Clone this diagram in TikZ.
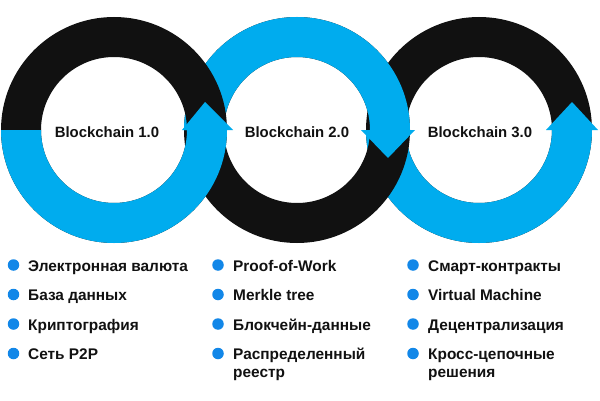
\documentclass[tikz,border=0pt]{standalone}
\usepackage{fontspec}
\setmainfont{Liberation Sans}
\definecolor{ringblue}{RGB}{0,172,238}
\definecolor{dotblue}{RGB}{18,135,232}
\definecolor{ink}{RGB}{17,17,17}
\begin{document}
\begin{tikzpicture}[x=1pt,y=1pt,
  title/.style={font=\bfseries\fontsize{14.9}{17}\selectfont, text=ink, inner sep=0pt, anchor=base},
  item/.style={font=\bfseries\fontsize{15.4}{17.5}\selectfont, text=ink, inner sep=0pt, anchor=base west, align=left},
  bulletdot/.style={circle, fill=dotblue, minimum size=11.5pt, inner sep=0pt},
  ringfull/.style={even odd rule},
]
\useasboundingbox (0,0) rectangle (600,400);
\fill[white] (0,0) rectangle (600,400);

% ring 3
\begin{scope}[shift={(479,270)}]
  \fill[ink,ringfull] (0,0) circle[radius=113] (0,0) circle[radius=73];
  \fill[ringblue] (113,0) arc[start angle=0,end angle=-180,radius=113] -- (-73,0) arc[start angle=180,end angle=360,radius=73] -- cycle;
  \fill[ringblue] (67,0) -- (119,0) -- (93,28) -- cycle;
\end{scope}

% ring 2
\begin{scope}[shift={(297,270)}]
  \fill[ink,ringfull] (0,0) circle[radius=113] (0,0) circle[radius=73];
  \fill[ringblue] (113,0) arc[start angle=0,end angle=180,radius=113] -- (-73,0) arc[start angle=180,end angle=0,radius=73] -- cycle;
  \fill[ringblue] (64,0) -- (118,0) -- (91,-28) -- cycle;
\end{scope}

% ring 1
\begin{scope}[shift={(114,270)}]
  \fill[ink,ringfull] (0,0) circle[radius=113] (0,0) circle[radius=73];
  \fill[ringblue] (113,0) arc[start angle=0,end angle=-180,radius=113] -- (-73,0) arc[start angle=180,end angle=360,radius=73] -- cycle;
  \fill[ringblue] (68,0) -- (119,0) -- (91,28) -- cycle;
\end{scope}

\node[title] (t1) at (107,263) {Blockchain 1.0};
\node[title] (t2) at (297,263) {Blockchain 2.0};
\node[title] (t3) at (480,263) {Blockchain 3.0};

% column 1
\node[bulletdot] (d11) at (13.5,135) {};
\node[item] (i11) at (28,129) {Электронная валюта};
\node[bulletdot] (d12) at (13.5,105.5) {};
\node[item] (i12) at (28,99.5) {База данных};
\node[bulletdot] (d13) at (13.5,76) {};
\node[item] (i13) at (28,70) {Криптография};
\node[bulletdot] (d14) at (13.5,46.5) {};
\node[item] (i14) at (28,40.5) {Сеть P2P};

% column 2
\node[bulletdot] (d21) at (218,135) {};
\node[item] (i21) at (233,129) {Proof-of-Work};
\node[bulletdot] (d22) at (218,105.5) {};
\node[item] (i22) at (233,99.5) {Merkle tree};
\node[bulletdot] (d23) at (218,76) {};
\node[item] (i23) at (233,70) {Блокчейн-данные};
\node[bulletdot] (d24) at (218,46.5) {};
\node[item] (i24) at (233,23) {Распределенный\\реестр};

% column 3
\node[bulletdot] (d31) at (413,135) {};
\node[item] (i31) at (428,129) {Смарт-контракты};
\node[bulletdot] (d32) at (413,105.5) {};
\node[item] (i32) at (428,99.5) {Virtual Machine};
\node[bulletdot] (d33) at (413,76) {};
\node[item] (i33) at (428,70) {Децентрализация};
\node[bulletdot] (d34) at (413,46.5) {};
\node[item] (i34) at (428,23) {Кросс-цепочные\\решения};
\end{tikzpicture}
\end{document}
